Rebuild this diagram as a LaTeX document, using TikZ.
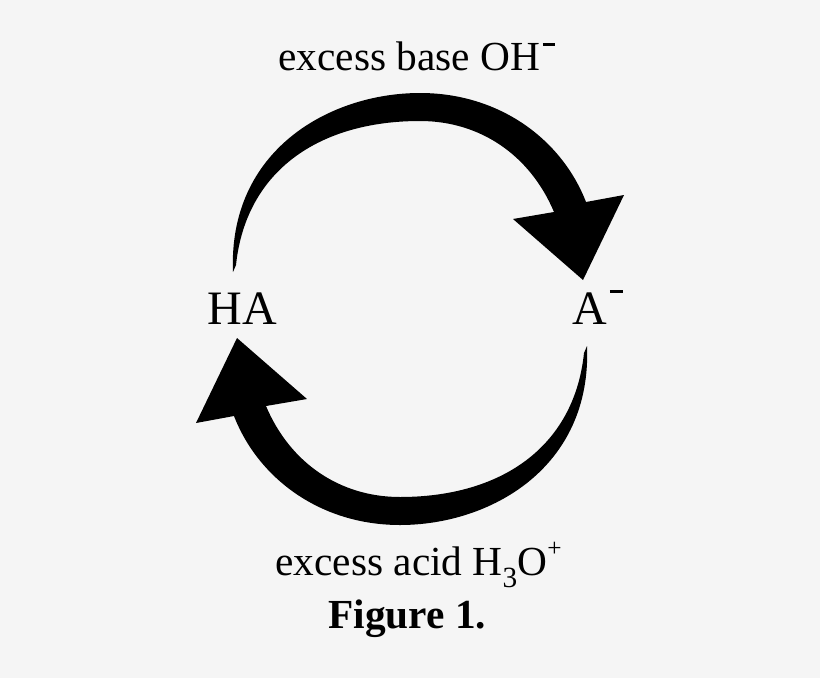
\documentclass[tikz,border=0pt]{standalone}
\usepackage{fontspec}
\setmainfont{Liberation Serif}

\tikzset{every picture/.style={line width=0.75pt}}
\definecolor{bgpaper}{RGB}{245,245,245}

\begin{document}
\begin{tikzpicture}[x=0.75pt,y=0.75pt,yscale=-1,xscale=1]
	%set diagram to 820 x 678
	\fill [bgpaper] (0,0) rectangle (820,678);
	\useasboundingbox (0,0) rectangle (820,678);
	
	%Shape: curved arrows, second one turned half round the centre
	\foreach \rot in {0,180} {
		\fill [black, rotate around={\rot:(410,309)}] (233,272) .. controls (228,150) and (330,93) .. (420,93) .. controls (500,93) and (562,140) .. (586,202) -- (624,195) -- (583,280) -- (513,219) -- (554,212) .. controls (530,155) and (480,121) .. (420,121) .. controls (320,121) and (246,170) .. (236,265) -- cycle ;
	}
	
	\draw (278,70) node (base) [anchor=base west][inner sep=0pt] [font=\fontsize{31}{37}\selectfont] {excess base OH\hspace{2pt}\rule[18.2pt]{9pt}{2.2pt}};
	\draw (207,324) node (ha) [anchor=base west][inner sep=0pt] [font=\fontsize{36}{43}\selectfont] {HA};
	\draw (572,324) node (a) [anchor=base west][inner sep=0pt] [font=\fontsize{36}{43}\selectfont] {A\hspace{2pt}\rule[23pt]{10pt}{2.2pt}};
	\draw (275,575) node (acid) [anchor=base west][inner sep=0pt] [font=\fontsize{31}{37}\selectfont] {excess acid H\raisebox{-0.3em}{\fontsize{22}{22}\selectfont 3}O\raisebox{0.45em}{\fontsize{19}{19}\selectfont +}};
	\draw (328,628) node (fig) [anchor=base west][inner sep=0pt] [font=\fontsize{31}{37}\selectfont\bfseries] {Figure 1.};
	
\end{tikzpicture}
\end{document}
